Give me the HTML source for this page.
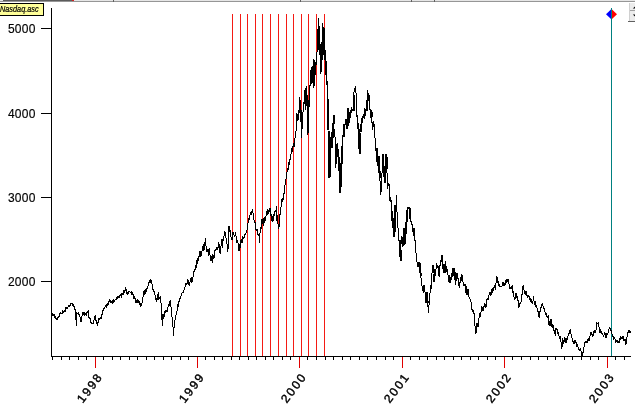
<!DOCTYPE html>
<html><head><meta charset="utf-8"><title>Nasdaq.asc</title>
<style>
html,body{margin:0;padding:0;background:#fff;}
body{width:635px;height:414px;position:relative;overflow:hidden;font-family:"Liberation Sans",Arial,sans-serif;color:#000;}
.yl{-webkit-text-stroke:0.15px #000;position:absolute;left:7px;width:28.6px;letter-spacing:0.25px;text-align:right;font-size:12px;line-height:12px;}
.xl{position:absolute;font-size:12px;line-height:12px;white-space:nowrap;transform-origin:100% 50%;transform:rotate(-53deg);letter-spacing:1.9px;-webkit-text-stroke:0.4px #000;}
.tag{position:absolute;left:-2px;top:3px;width:44px;height:11px;background:#ffff99;border:1px solid #000;box-sizing:content-box;font-size:8.5px;line-height:11px;font-style:italic;white-space:nowrap;overflow:hidden;}
.tag span{-webkit-text-stroke:0.2px #000;display:inline-block;transform-origin:0 50%;transform:scaleX(0.86);margin-left:0.5px;}
</style></head><body>
<svg width="635" height="414" viewBox="0 0 635 414" style="position:absolute;left:0;top:0">
<g shape-rendering="crispEdges">
<rect x="0" y="0" width="635" height="1" fill="#e6e6e6"/>
<rect x="0" y="1" width="635" height="1" fill="#969696"/>
<rect x="3" y="0" width="69" height="1" fill="#5c5c5c"/>
<rect x="72" y="0" width="2" height="1" fill="#d02020"/>
<rect x="113" y="0" width="1" height="2" fill="#606060"/>
<rect x="300" y="0" width="1" height="2" fill="#606060"/>
<rect x="411" y="0" width="1" height="2" fill="#606060"/>
<rect x="434" y="0" width="1" height="2" fill="#606060"/>
<rect x="232" y="14" width="1" height="342" fill="#f41a14"/>
<rect x="240" y="14" width="1" height="342" fill="#f41a14"/>
<rect x="247" y="14" width="1" height="342" fill="#f41a14"/>
<rect x="255" y="14" width="1" height="342" fill="#f41a14"/>
<rect x="262" y="14" width="1" height="342" fill="#f41a14"/>
<rect x="270" y="14" width="1" height="342" fill="#f41a14"/>
<rect x="278" y="14" width="1" height="342" fill="#f41a14"/>
<rect x="286" y="14" width="1" height="342" fill="#f41a14"/>
<rect x="293" y="14" width="1" height="342" fill="#f41a14"/>
<rect x="301" y="14" width="1" height="342" fill="#f41a14"/>
<rect x="308" y="14" width="1" height="342" fill="#f41a14"/>
<rect x="316" y="14" width="1" height="342" fill="#f41a14"/>
<rect x="324" y="14" width="1" height="342" fill="#f41a14"/>
<rect x="51" y="8" width="1" height="349" fill="#000"/>
<rect x="51" y="356" width="580" height="1" fill="#000"/>
<rect x="41" y="28" width="10" height="1" fill="#000"/>
<rect x="41" y="113" width="10" height="1" fill="#000"/>
<rect x="41" y="197" width="10" height="1" fill="#000"/>
<rect x="41" y="281" width="10" height="1" fill="#000"/>
<rect x="52" y="357" width="1" height="3" fill="#000"/>
<rect x="61" y="357" width="1" height="3" fill="#000"/>
<rect x="69" y="357" width="1" height="3" fill="#000"/>
<rect x="78" y="357" width="1" height="3" fill="#000"/>
<rect x="86" y="357" width="1" height="3" fill="#000"/>
<rect x="95" y="357" width="1" height="11" fill="#e00000"/>
<rect x="103" y="357" width="1" height="3" fill="#000"/>
<rect x="112" y="357" width="1" height="3" fill="#000"/>
<rect x="120" y="357" width="1" height="3" fill="#000"/>
<rect x="129" y="357" width="1" height="3" fill="#000"/>
<rect x="137" y="357" width="1" height="3" fill="#000"/>
<rect x="146" y="357" width="1" height="3" fill="#000"/>
<rect x="154" y="357" width="1" height="3" fill="#000"/>
<rect x="163" y="357" width="1" height="3" fill="#000"/>
<rect x="171" y="357" width="1" height="3" fill="#000"/>
<rect x="180" y="357" width="1" height="3" fill="#000"/>
<rect x="188" y="357" width="1" height="3" fill="#000"/>
<rect x="197" y="357" width="1" height="11" fill="#e00000"/>
<rect x="205" y="357" width="1" height="3" fill="#000"/>
<rect x="214" y="357" width="1" height="3" fill="#000"/>
<rect x="222" y="357" width="1" height="3" fill="#000"/>
<rect x="231" y="357" width="1" height="3" fill="#000"/>
<rect x="239" y="357" width="1" height="3" fill="#000"/>
<rect x="248" y="357" width="1" height="3" fill="#000"/>
<rect x="256" y="357" width="1" height="3" fill="#000"/>
<rect x="265" y="357" width="1" height="3" fill="#000"/>
<rect x="273" y="357" width="1" height="3" fill="#000"/>
<rect x="282" y="357" width="1" height="3" fill="#000"/>
<rect x="290" y="357" width="1" height="3" fill="#000"/>
<rect x="299" y="357" width="1" height="11" fill="#e00000"/>
<rect x="307" y="357" width="1" height="3" fill="#000"/>
<rect x="316" y="357" width="1" height="3" fill="#000"/>
<rect x="325" y="357" width="1" height="3" fill="#000"/>
<rect x="333" y="357" width="1" height="3" fill="#000"/>
<rect x="342" y="357" width="1" height="3" fill="#000"/>
<rect x="350" y="357" width="1" height="3" fill="#000"/>
<rect x="359" y="357" width="1" height="3" fill="#000"/>
<rect x="367" y="357" width="1" height="3" fill="#000"/>
<rect x="376" y="357" width="1" height="3" fill="#000"/>
<rect x="385" y="357" width="1" height="3" fill="#000"/>
<rect x="393" y="357" width="1" height="3" fill="#000"/>
<rect x="402" y="357" width="1" height="11" fill="#e00000"/>
<rect x="410" y="357" width="1" height="3" fill="#000"/>
<rect x="419" y="357" width="1" height="3" fill="#000"/>
<rect x="427" y="357" width="1" height="3" fill="#000"/>
<rect x="436" y="357" width="1" height="3" fill="#000"/>
<rect x="444" y="357" width="1" height="3" fill="#000"/>
<rect x="453" y="357" width="1" height="3" fill="#000"/>
<rect x="461" y="357" width="1" height="3" fill="#000"/>
<rect x="470" y="357" width="1" height="3" fill="#000"/>
<rect x="478" y="357" width="1" height="3" fill="#000"/>
<rect x="487" y="357" width="1" height="3" fill="#000"/>
<rect x="495" y="357" width="1" height="3" fill="#000"/>
<rect x="504" y="357" width="1" height="11" fill="#e00000"/>
<rect x="512" y="357" width="1" height="3" fill="#000"/>
<rect x="521" y="357" width="1" height="3" fill="#000"/>
<rect x="530" y="357" width="1" height="3" fill="#000"/>
<rect x="538" y="357" width="1" height="3" fill="#000"/>
<rect x="547" y="357" width="1" height="3" fill="#000"/>
<rect x="555" y="357" width="1" height="3" fill="#000"/>
<rect x="564" y="357" width="1" height="3" fill="#000"/>
<rect x="572" y="357" width="1" height="3" fill="#000"/>
<rect x="581" y="357" width="1" height="3" fill="#000"/>
<rect x="590" y="357" width="1" height="3" fill="#000"/>
<rect x="598" y="357" width="1" height="3" fill="#000"/>
<rect x="607" y="357" width="1" height="11" fill="#e00000"/>
<rect x="615" y="357" width="1" height="3" fill="#000"/>
<rect x="624" y="357" width="1" height="3" fill="#000"/>
<rect x="611" y="8" width="1" height="348" fill="#008080"/>
</g>
<polyline points="52.1,312.9 52.46,313.19 52.82,314.73 53.18,314.42 53.54,314.92 53.9,315.9 54.33,315.15 54.75,316.39 55.17,318.36 55.6,317.4 55.98,318.35 56.35,319.53 56.73,319.04 57.1,319.2 57.46,319.17 57.82,318.42 58.18,315.71 58.54,318.22 58.9,316.7 59.26,316.84 59.61,316.36 59.97,313.23 60.33,312.69 60.69,313.26 61.04,313.3 61.4,313.4 61.76,313.45 62.11,312.69 62.47,313.06 62.83,311.29 63.19,312.14 63.54,311.92 63.9,311.1 64.27,309.81 64.64,312.31 65.01,310.43 65.39,310.79 65.76,308.03 66.13,307.41 66.5,307.9 66.86,307.27 67.21,307.39 67.57,308.15 67.93,307.48 68.29,306.4 68.64,305.55 69.0,306.6 69.36,305.45 69.71,307.24 70.07,304.13 70.43,305.03 70.79,304.8 71.14,302.86 71.5,303.3 71.9,303.78 72.3,305.86 72.7,302.86 73.1,304.56 73.5,305.4 73.86,306.26 74.22,306.35 74.58,309.03 74.94,309.32 75.3,310.4 75.7,313.83 76.1,321.76 76.5,326.0 77.0,312.9 77.4,313.43 77.8,313.47 78.2,313.79 78.6,311.7 79.02,314.02 79.45,315.59 79.88,315.77 80.3,319.2 80.7,321.17 81.1,321.7 81.5,318.48 81.9,316.16 82.3,314.2 82.63,312.05 82.97,311.99 83.3,312.4 83.7,312.5 84.1,315.48 84.5,312.17 84.9,315.4 85.33,313.0 85.75,314.44 86.17,315.3 86.6,312.9 87.03,313.22 87.47,311.29 87.9,311.7 88.3,311.29 88.7,316.33 89.1,318.0 89.53,317.96 89.97,318.35 90.4,320.5 90.76,322.23 91.12,322.97 91.48,322.48 91.84,323.18 92.2,323.5 92.6,323.4 93.0,323.88 93.4,321.7 93.78,321.17 94.15,319.81 94.53,318.6 94.9,316.7 95.23,316.3 95.57,319.89 95.9,319.2 96.28,322.01 96.65,323.21 97.03,322.07 97.4,326.0 97.77,323.28 98.13,322.97 98.5,320.0 98.9,317.61 99.3,318.98 99.7,320.0 100.1,316.85 100.5,318.0 100.92,318.98 101.35,316.77 101.78,314.97 102.2,314.2 102.6,312.7 103.0,310.4 103.43,310.39 103.87,308.89 104.3,307.9 104.72,308.75 105.15,305.8 105.58,305.49 106.0,305.4 106.4,306.5 106.8,304.92 107.2,303.47 107.6,305.6 108.0,304.1 108.4,305.28 108.8,301.99 109.2,299.98 109.6,300.88 110.0,300.3 110.36,300.6 110.72,300.9 111.08,303.24 111.44,300.93 111.8,302.8 112.16,303.24 112.52,300.11 112.88,300.25 113.24,301.65 113.6,300.3 114.0,301.58 114.4,300.98 114.8,300.05 115.2,299.53 115.6,299.1 115.96,298.94 116.31,299.14 116.67,297.74 117.03,298.0 117.39,298.03 117.74,296.87 118.1,296.5 118.46,297.39 118.81,296.94 119.17,297.51 119.53,296.27 119.89,295.05 120.24,294.95 120.6,295.3 121.0,295.02 121.4,296.07 121.8,294.05 122.2,294.8 122.6,294.0 122.96,295.28 123.32,289.83 123.68,290.91 124.04,292.35 124.4,291.5 124.83,291.07 125.27,289.84 125.7,288.5 126.1,289.71 126.5,293.1 126.9,294.0 127.26,293.9 127.62,292.26 127.98,294.47 128.34,292.51 128.7,291.5 129.1,291.02 129.5,291.88 129.9,291.96 130.3,292.45 130.7,292.8 131.1,291.55 131.5,292.59 131.9,294.94 132.3,292.33 132.7,294.0 133.06,294.67 133.42,296.85 133.78,297.47 134.14,299.09 134.5,297.8 134.86,296.38 135.22,299.12 135.58,300.04 135.94,302.23 136.3,302.3 136.7,302.74 137.1,299.85 137.5,302.56 137.9,299.85 138.3,300.3 138.7,302.48 139.1,300.86 139.5,304.1 139.86,304.59 140.22,305.84 140.58,304.68 140.94,305.39 141.3,305.4 141.73,304.75 142.17,302.19 142.6,300.3 143.0,297.25 143.4,296.58 143.8,291.5 144.2,292.74 144.6,290.56 145.0,294.66 145.4,288.81 145.8,290.2 146.2,290.78 146.6,288.33 147.0,288.17 147.4,288.27 147.8,286.5 148.16,286.07 148.52,285.93 148.88,281.94 149.24,281.2 149.6,282.7 150.03,282.8 150.47,279.69 150.9,280.2 151.3,280.31 151.7,281.33 152.1,285.2 152.46,288.33 152.82,288.81 153.18,291.12 153.54,288.89 153.9,291.5 154.28,292.45 154.65,291.79 155.03,295.42 155.4,295.3 155.73,299.58 156.07,298.29 156.4,301.6 156.78,301.81 157.15,299.15 157.53,295.65 157.9,294.0 158.23,293.54 158.57,299.33 158.9,299.1 159.28,298.64 159.65,297.63 160.03,298.67 160.4,297.8 160.73,300.45 161.07,304.0 161.4,304.1 161.8,313.56 162.2,325.5 162.6,321.18 163.0,314.2 163.33,316.84 163.67,317.62 164.0,316.7 164.4,314.38 164.8,311.58 165.2,310.4 165.63,312.11 166.07,311.41 166.5,311.7 166.9,310.59 167.3,310.97 167.7,307.9 168.13,307.13 168.57,304.08 169.0,306.6 169.4,303.59 169.8,301.6 170.2,301.16 170.6,306.0 171.0,306.6 171.33,310.37 171.67,312.58 172.0,316.7 172.4,319.84 172.8,323.0 173.15,330.21 173.5,335.6 173.9,330.04 174.3,324.3 174.73,322.87 175.17,318.29 175.6,315.4 176.03,314.8 176.45,313.51 176.88,311.81 177.3,307.9 177.66,305.77 178.02,306.53 178.38,301.66 178.74,301.42 179.1,301.6 179.5,297.69 179.9,300.53 180.3,296.13 180.7,296.54 181.1,295.3 181.5,294.27 181.9,293.74 182.3,292.18 182.7,292.59 183.1,291.5 183.46,293.31 183.82,290.04 184.18,289.99 184.54,289.92 184.9,287.7 185.32,286.46 185.75,283.94 186.18,284.02 186.6,283.9 187.0,284.59 187.4,279.7 187.8,280.22 188.2,280.2 188.53,283.39 188.87,284.72 189.2,285.2 189.57,283.44 189.95,282.87 190.32,280.13 190.7,278.1 191.1,277.82 191.5,278.79 191.9,282.7 192.33,279.19 192.77,279.07 193.2,275.1 193.56,273.2 193.92,271.66 194.28,270.86 194.64,268.63 195.0,270.1 195.43,268.85 195.85,265.2 196.27,268.18 196.7,266.3 197.07,258.8 197.43,264.39 197.8,260.46 198.17,255.62 198.53,261.32 198.9,258.0 199.3,254.1 199.7,251.7 200.03,251.11 200.37,252.71 200.7,256.8 201.07,255.7 201.45,251.73 201.82,253.27 202.2,249.2 202.53,249.65 202.87,247.77 203.2,244.2 203.53,246.8 203.87,249.81 204.2,249.2 204.53,247.72 204.87,243.78 205.2,239.1 205.63,238.47 206.07,246.75 206.5,246.7 206.9,252.06 207.3,249.2 207.7,251.7 208.13,249.56 208.57,255.47 209.0,249.2 209.4,248.6 209.8,254.69 210.2,255.5 210.63,261.18 211.07,256.42 211.5,260.6 211.93,260.35 212.37,261.18 212.8,254.3 213.2,255.21 213.6,258.29 214.0,258.0 214.43,257.96 214.87,250.5 215.3,250.5 215.7,248.98 216.1,248.8 216.5,246.7 216.93,249.87 217.37,248.27 217.8,249.2 218.23,246.98 218.67,243.59 219.1,244.2 219.5,246.11 219.9,252.56 220.3,253.0 220.73,249.92 221.17,243.83 221.6,242.9 222.0,239.18 222.4,248.2 222.8,239.1 223.23,241.25 223.67,238.54 224.1,235.4 224.53,230.95 224.97,234.76 225.4,231.6 225.8,235.16 226.2,240.85 226.6,237.9 227.03,243.74 227.47,246.91 227.9,251.7 228.25,243.77 228.6,232.8 228.93,225.84 229.27,231.8 229.6,226.5 230.03,230.47 230.47,230.29 230.9,235.4 231.33,239.74 231.77,239.74 232.2,239.1 232.6,232.82 233.0,232.89 233.4,232.8 233.83,234.95 234.27,235.88 234.7,236.6 235.1,234.57 235.5,233.45 235.9,234.1 236.33,242.55 236.77,241.38 237.2,240.4 237.63,240.32 238.07,243.31 238.5,250.5 238.9,251.11 239.3,249.12 239.7,244.2 240.13,248.21 240.57,244.03 241.0,240.4 241.4,239.2 241.8,242.83 242.2,242.9 242.63,236.05 243.07,237.36 243.5,237.9 243.88,237.1 244.25,238.21 244.62,233.84 245.0,235.4 245.43,233.76 245.87,234.26 246.3,231.6 246.7,230.66 247.1,229.39 247.5,225.3 247.93,223.86 248.37,220.06 248.8,219.0 249.2,220.3 249.6,216.63 250.0,215.2 250.43,212.04 250.87,212.27 251.3,213.9 251.73,212.23 252.17,210.2 252.6,208.9 252.93,212.36 253.27,214.77 253.6,217.7 253.93,219.97 254.27,220.67 254.6,222.8 254.93,220.05 255.27,226.59 255.6,226.5 256.03,230.65 256.47,229.58 256.9,229.1 257.3,230.62 257.7,234.66 258.1,235.4 258.53,235.03 258.97,234.83 259.4,242.9 259.75,237.43 260.1,231.6 260.43,227.47 260.77,231.36 261.1,227.8 261.53,223.14 261.97,218.84 262.4,224.0 262.83,219.02 263.27,225.74 263.7,219.0 264.1,219.04 264.5,217.15 264.9,222.8 265.33,217.37 265.77,218.57 266.2,213.9 266.6,213.89 267.0,211.16 267.4,208.9 267.83,214.48 268.27,212.67 268.7,211.4 269.13,210.06 269.57,210.88 270.0,207.6 270.4,215.69 270.8,215.9 271.2,215.2 271.63,220.64 272.07,215.9 272.5,221.5 272.9,218.92 273.3,219.68 273.7,215.2 274.13,212.95 274.57,216.22 275.0,211.4 275.43,211.74 275.87,211.14 276.3,206.4 276.63,208.62 276.97,220.75 277.3,215.2 277.63,223.41 277.97,222.92 278.3,227.8 278.63,224.72 278.97,228.49 279.3,217.7 279.63,214.07 279.97,215.61 280.3,210.2 280.63,211.82 280.97,206.82 281.3,205.1 281.73,198.96 282.17,201.55 282.6,198.8 283.0,198.41 283.4,199.49 283.8,193.8 284.15,193.67 284.5,187.94 284.85,188.04 285.2,181.9 285.63,181.84 286.07,178.49 286.5,175.6 286.9,173.28 287.3,169.58 287.7,168.0 288.07,169.97 288.45,162.31 288.82,163.25 289.2,165.0 289.65,161.9 290.1,158.8 290.55,156.4 291.0,154.0 291.4,151.0 291.8,148.0 292.15,150.0 292.5,152.0 292.9,147.5 293.3,143.0 293.65,145.0 294.0,147.0 294.3,144.0 294.6,141.0 295.0,138.5 295.3,135.75 295.6,133.0 296.0,131.0 296.5,122.0 296.9,113.0 297.3,121.0 297.8,116.0 298.1,113.0 298.4,110.0 298.9,120.0 299.3,97.0 299.8,112.0 300.3,100.0 300.8,122.0 301.3,110.0 301.7,137.6 302.1,115.0 302.6,128.6 303.1,108.0 303.6,112.0 304.1,100.0 304.6,104.0 305.0,90.0 305.4,110.0 305.8,88.0 306.3,105.0 306.7,86.0 307.2,117.0 307.6,95.0 308.0,134.7 308.4,100.0 308.8,122.0 309.2,95.0 309.7,88.0 310.2,84.0 310.6,70.0 311.1,82.0 311.5,67.0 312.0,84.0 312.5,66.0 313.0,80.0 313.3,70.0 313.6,88.0 314.0,59.0 314.3,72.5 314.6,86.0 315.0,62.0 315.3,68.5 315.6,75.0 315.95,66.5 316.3,58.0 316.75,54.0 317.2,50.0 317.3,29.5 317.4,52.0 317.8,30.0 318.2,48.0 318.5,18.0 318.9,50.0 319.3,26.0 319.7,55.0 320.2,44.0 320.6,74.0 321.0,45.0 321.5,72.0 321.9,42.0 322.3,60.0 322.8,23.0 323.2,52.0 323.6,27.0 324.0,55.0 324.4,28.0 324.8,60.0 325.2,50.0 325.6,75.0 326.0,60.0 326.5,85.0 327.0,80.0 327.3,100.0 327.5,98.7 327.5,115.1 328.0,130.2 328.5,145.4 329.0,178.1 329.4,164.28 329.8,150.4 330.2,136.88 330.6,137.8 330.93,138.47 331.27,132.26 331.6,147.9 331.93,136.95 332.27,138.02 332.6,127.7 332.95,125.12 333.3,115.1 333.7,123.59 334.1,132.8 334.43,133.84 334.77,128.95 335.1,140.3 335.6,166.8 335.95,167.67 336.3,150.4 336.7,149.73 337.1,142.8 337.43,155.29 337.77,149.39 338.1,160.5 338.5,164.5 338.9,170.6 339.25,172.14 339.6,193.2 340.0,187.32 340.4,173.1 340.75,172.1 341.1,160.5 341.43,146.02 341.77,153.46 342.1,150.4 342.6,154.2 343.1,131.5 343.47,137.16 343.83,124.25 344.2,136.5 344.53,124.25 344.87,124.24 345.2,125.2 345.53,123.27 345.87,118.69 346.2,129.0 346.53,127.5 346.87,127.22 347.2,123.9 347.55,119.99 347.9,107.6 348.3,119.21 348.7,121.4 349.03,122.39 349.37,122.4 349.7,115.1 350.03,111.93 350.37,113.4 350.7,117.6 351.03,109.26 351.37,107.41 351.7,112.6 352.03,111.22 352.37,110.97 352.7,110.1 353.03,111.36 353.37,94.98 353.7,103.8 354.1,89.39 354.5,92.4 354.85,89.08 355.2,86.1 355.57,88.46 355.93,91.48 356.3,97.5 356.8,115.1 357.13,117.21 357.47,115.15 357.8,122.7 358.15,133.5 358.5,135.3 358.9,146.91 359.3,154.2 359.65,142.96 360.0,132.8 360.4,124.68 360.8,125.2 361.13,124.9 361.47,117.87 361.8,127.7 362.13,118.82 362.47,122.94 362.8,120.2 363.13,114.11 363.47,118.13 363.8,115.1 364.13,117.35 364.47,108.47 364.8,118.9 365.13,114.29 365.47,110.92 365.8,110.1 366.13,110.72 366.47,109.26 366.8,102.5 367.13,98.48 367.47,90.13 367.8,91.2 368.2,95.23 368.6,101.3 369.0,97.69 369.4,95.0 369.75,107.66 370.1,110.1 370.5,115.83 370.9,117.6 371.23,114.52 371.57,112.09 371.9,122.7 372.23,122.78 372.57,122.93 372.9,130.2 373.23,120.94 373.57,125.25 373.9,123.9 374.23,124.53 374.57,132.17 374.9,135.3 375.23,141.93 375.57,139.49 375.9,145.4 376.23,161.95 376.57,148.47 376.9,152.9 377.23,162.74 377.57,160.34 377.9,163.0 378.23,172.7 378.57,156.41 378.9,173.1 379.23,170.63 379.57,177.79 379.9,178.1 380.23,186.78 380.57,195.28 380.9,194.5 381.3,186.76 381.7,175.6 382.1,172.2 382.5,154.2 382.83,163.27 383.17,168.83 383.5,168.0 383.83,175.86 384.17,177.22 384.5,183.1 384.85,174.63 385.2,160.5 385.6,155.83 386.0,156.7 386.33,168.97 386.67,161.89 387.0,173.1 387.33,178.66 387.67,188.63 388.0,185.7 388.33,183.65 388.67,184.07 389.0,183.1 389.33,195.07 389.67,195.03 390.0,200.8 390.4,196.6 390.8,201.76 391.2,200.3 391.53,210.69 391.87,218.77 392.2,223.0 392.53,217.8 392.87,227.74 393.2,218.0 393.55,234.87 393.9,236.9 394.3,221.23 394.7,205.4 395.03,209.2 395.37,208.35 395.7,212.9 396.1,211.06 396.5,195.3 396.85,204.49 397.2,220.5 397.53,226.92 397.87,225.1 398.2,230.6 398.53,230.93 398.87,240.33 399.2,240.6 399.53,252.74 399.87,254.03 400.2,260.8 400.53,249.72 400.87,247.34 401.2,235.6 401.57,238.76 401.93,243.62 402.3,245.7 402.63,246.21 402.97,238.79 403.3,228.0 403.63,229.09 403.97,244.57 404.3,238.1 404.63,234.75 404.97,234.8 405.3,228.0 405.63,222.59 405.97,222.8 406.3,220.5 406.63,209.84 406.97,223.82 407.3,212.9 407.63,217.76 407.97,207.18 408.3,207.9 408.63,207.18 408.97,207.18 409.3,210.4 409.63,219.32 409.97,214.99 410.3,220.5 410.63,221.06 410.97,220.74 411.3,223.0 411.63,224.99 411.97,223.23 412.3,230.6 412.63,232.37 412.97,227.72 413.3,235.6 413.63,234.46 413.97,235.27 414.3,233.1 414.67,239.29 415.03,240.53 415.4,245.7 415.1,245.0 415.53,244.72 415.97,252.37 416.4,255.1 416.8,256.61 417.2,265.76 417.6,265.2 418.03,267.22 418.47,263.1 418.9,262.7 419.33,265.58 419.77,269.4 420.2,276.5 420.6,274.54 421.0,277.83 421.4,280.3 421.83,284.65 422.27,288.71 422.7,290.4 423.1,290.57 423.5,292.81 423.9,285.4 424.33,285.61 424.77,290.44 425.2,292.9 425.63,302.49 426.07,292.29 426.5,300.5 426.9,299.78 427.3,302.67 427.7,303.0 428.1,308.49 428.5,313.1 428.83,309.23 429.17,302.33 429.5,298.0 429.9,294.94 430.3,289.77 430.7,285.4 431.03,288.76 431.37,280.9 431.7,287.9 432.0,273.48 432.3,265.2 432.63,270.66 432.97,272.54 433.3,281.6 433.63,274.2 433.97,276.21 434.3,270.2 434.63,269.14 434.97,274.99 435.3,274.0 435.7,272.92 436.1,267.59 436.5,262.7 436.93,266.25 437.37,265.65 437.8,267.7 438.23,265.58 438.67,273.46 439.1,276.5 439.5,273.92 439.9,266.17 440.3,263.9 440.73,260.59 441.17,260.91 441.6,255.1 442.0,255.1 442.4,264.24 442.8,265.2 443.23,273.35 443.67,268.27 444.1,272.8 444.53,269.53 444.97,264.64 445.4,261.4 445.8,268.86 446.2,265.97 446.6,266.5 447.03,272.25 447.47,269.04 447.9,274.0 448.3,276.88 448.7,279.83 449.1,282.8 449.53,275.13 449.97,283.31 450.4,277.8 450.83,279.54 451.27,272.69 451.7,276.5 452.1,275.41 452.5,270.3 452.9,267.7 453.33,270.53 453.77,272.02 454.2,272.8 454.6,272.92 455.0,279.83 455.4,284.1 455.83,284.27 456.27,275.98 456.7,274.0 457.13,273.48 457.57,274.11 458.0,279.1 458.4,278.72 458.8,284.88 459.2,286.6 459.63,287.1 460.07,281.75 460.5,277.8 460.9,277.13 461.3,280.73 461.7,274.0 462.13,275.27 462.57,277.45 463.0,281.6 463.43,284.1 463.87,285.41 464.3,285.4 464.7,284.75 465.1,286.09 465.5,290.4 465.93,292.31 466.37,293.48 466.8,294.2 467.2,289.62 467.6,290.35 468.0,289.1 468.43,290.87 468.87,296.03 469.3,298.0 469.73,298.59 470.17,299.49 470.6,300.5 471.0,302.27 471.4,307.63 471.8,308.0 472.23,311.62 472.67,309.01 473.1,310.6 473.5,313.9 473.9,312.49 474.3,315.6 474.73,321.6 475.17,328.62 475.6,333.2 476.03,332.38 476.47,325.8 476.9,323.1 477.3,324.24 477.7,325.98 478.1,326.9 478.53,320.03 478.97,318.53 479.4,314.3 479.8,313.89 480.2,316.73 480.6,316.9 481.03,311.37 481.47,306.38 481.9,306.8 482.3,308.14 482.7,309.85 483.1,310.6 483.53,306.98 483.97,307.33 484.4,303.0 484.83,304.11 485.27,305.11 485.7,308.0 486.1,306.47 486.5,299.77 486.9,300.5 487.33,298.64 487.77,299.59 488.2,299.2 488.6,298.92 489.0,294.65 489.4,292.9 489.83,294.01 490.27,292.33 490.7,294.2 491.13,293.17 491.57,294.51 492.0,289.1 492.4,287.99 492.8,292.72 493.2,290.4 493.63,287.68 494.07,287.91 494.5,286.6 494.9,287.43 495.3,289.43 495.7,287.9 496.13,281.5 496.57,276.79 497.0,277.3 497.43,280.19 497.87,282.06 498.3,281.6 498.7,283.9 499.1,286.9 499.5,284.1 500.0,286.4 500.35,286.69 500.7,286.62 501.05,286.89 501.4,286.52 501.75,286.82 502.1,285.3 502.47,282.93 502.83,283.73 503.2,282.2 503.57,285.79 503.93,282.68 504.3,283.2 504.65,284.89 505.0,284.56 505.35,282.14 505.7,281.2 506.05,280.27 506.4,281.1 506.75,279.57 507.1,279.49 507.45,282.07 507.8,280.45 508.15,280.34 508.5,280.0 508.87,282.06 509.23,287.05 509.6,287.4 509.93,288.89 510.27,287.81 510.6,288.5 510.97,289.31 511.33,286.75 511.7,286.4 512.07,285.91 512.43,292.48 512.8,290.6 513.13,293.06 513.47,291.37 513.8,294.9 514.17,298.98 514.53,299.17 514.9,300.2 515.23,294.4 515.57,298.76 515.9,292.8 516.27,294.56 516.63,296.8 517.0,295.9 517.37,298.12 517.73,299.18 518.1,301.3 518.43,299.88 518.77,306.81 519.1,306.6 519.47,305.59 519.83,303.88 520.2,303.4 520.57,303.42 520.93,302.16 521.3,301.3 521.63,299.9 521.97,294.83 522.3,292.8 522.65,289.52 523.0,286.4 523.4,285.91 523.8,289.6 524.23,290.06 524.67,293.89 525.1,293.8 525.53,295.41 525.97,291.6 526.4,291.7 526.8,293.2 527.2,297.46 527.6,297.0 528.03,295.6 528.47,297.19 528.9,294.9 529.33,299.91 529.77,297.78 530.2,299.1 530.63,302.41 531.07,299.08 531.5,301.3 531.9,302.43 532.3,302.54 532.7,303.4 533.15,299.89 533.6,295.9 533.97,300.11 534.33,304.54 534.7,301.3 535.03,301.33 535.37,302.92 535.7,305.5 536.13,307.2 536.57,304.78 537.0,307.6 537.43,310.01 537.87,311.58 538.3,311.9 538.7,313.5 539.1,317.16 539.5,318.3 539.95,311.61 540.4,310.8 540.77,311.23 541.13,305.61 541.5,307.6 541.83,304.8 542.17,303.67 542.5,303.4 542.87,303.98 543.23,307.93 543.6,307.6 543.93,308.83 544.27,308.95 544.6,310.8 544.97,312.22 545.33,314.6 545.7,311.9 546.07,312.98 546.43,314.73 546.8,315.1 547.13,318.13 547.47,317.0 547.8,317.2 548.17,316.61 548.53,325.24 548.9,322.5 549.27,326.08 549.63,321.15 550.0,325.7 550.33,323.5 550.67,322.18 551.0,319.3 551.37,323.86 551.73,326.14 552.1,327.8 552.43,326.63 552.77,324.57 553.1,325.7 553.47,327.64 553.83,330.98 554.2,331.0 554.57,330.98 554.93,332.87 555.3,336.3 555.63,333.79 555.97,328.54 556.3,328.9 556.67,329.16 557.03,329.57 557.4,331.0 557.77,333.18 558.13,332.72 558.5,335.3 558.83,334.96 559.17,336.81 559.5,338.5 559.87,338.06 560.23,336.95 560.6,337.4 560.97,341.31 561.33,346.07 561.7,349.1 562.03,347.26 562.37,344.71 562.7,339.5 563.07,339.99 563.43,341.87 563.8,343.8 564.13,338.71 564.47,341.84 564.8,337.4 565.17,338.28 565.53,340.89 565.9,342.7 566.27,342.26 566.63,338.93 567.0,339.5 567.33,339.0 567.67,337.33 568.0,336.3 568.37,332.93 568.73,334.54 569.1,333.1 569.4,333.31 569.7,330.4 570.07,330.04 570.43,333.25 570.8,333.1 571.17,334.8 571.53,336.56 571.9,337.4 572.23,339.01 572.57,341.12 572.9,340.6 573.27,341.4 573.63,343.77 574.0,343.8 574.33,342.25 574.67,342.53 575.0,340.6 575.37,340.33 575.73,341.87 576.1,342.7 576.47,345.43 576.83,344.62 577.2,344.8 577.53,345.69 577.87,345.63 578.2,348.0 578.57,347.85 578.93,349.68 579.3,350.2 579.67,350.51 580.03,349.21 580.4,348.0 580.73,350.01 581.07,350.82 581.4,352.3 581.77,354.81 582.13,354.02 582.5,355.5 582.87,352.78 583.23,352.2 583.6,349.1 583.93,347.41 584.27,345.25 584.6,343.8 584.97,342.42 585.33,342.1 585.7,341.7 586.03,342.77 586.37,342.79 586.7,342.7 587.07,340.19 587.43,341.08 587.8,339.5 588.17,340.08 588.53,339.02 588.9,340.6 589.23,340.11 589.57,337.39 589.9,336.3 590.27,334.47 590.63,334.52 591.0,332.1 591.37,334.5 591.73,332.62 592.1,334.2 592.43,335.12 592.77,333.82 593.1,335.3 593.47,335.65 593.83,331.79 594.2,331.0 594.53,333.26 594.87,331.56 595.2,333.1 595.57,331.7 595.93,331.14 596.3,325.7 596.67,322.12 597.03,323.7 597.4,323.6 597.8,323.75 598.2,322.5 598.57,324.87 598.93,326.6 599.3,330.0 599.63,333.14 599.97,330.77 600.3,331.0 600.67,329.56 601.03,333.51 601.4,333.1 601.77,331.26 602.13,335.31 602.5,334.2 602.83,333.83 603.17,335.12 603.5,335.3 603.87,336.17 604.23,333.98 604.6,333.1 604.97,332.76 605.33,333.84 605.7,337.4 606.03,337.74 606.37,336.2 606.7,334.2 607.07,332.79 607.43,334.57 607.8,333.1 608.17,332.71 608.53,331.88 608.9,330.0 609.23,327.44 609.57,328.13 609.9,327.8 610.27,329.74 610.63,330.24 611.0,330.0 611.33,332.55 611.67,329.63 612.0,334.2 612.37,335.11 612.73,336.22 613.1,336.3 613.47,339.56 613.83,335.85 614.2,337.4 614.53,337.69 614.87,338.84 615.2,339.5 615.57,340.94 615.93,339.7 616.3,340.6 616.67,342.34 617.03,340.39 617.4,341.7 617.73,342.35 618.07,341.74 618.4,342.7 618.77,342.55 619.13,341.21 619.5,341.7 619.83,338.34 620.17,340.17 620.5,337.4 620.87,338.14 621.23,337.45 621.6,338.5 621.97,338.01 622.33,338.26 622.7,336.3 623.03,336.53 623.37,339.03 623.7,340.6 624.07,340.88 624.43,340.5 624.8,339.5 625.17,340.53 625.53,339.87 625.9,343.8 626.23,343.15 626.57,339.93 626.9,337.4 627.27,335.65 627.63,333.51 628.0,332.1 628.33,332.08 628.67,330.81 629.0,331.0 629.37,330.64 629.73,331.44 630.1,333.1 630.47,332.0 630.83,331.64 631.2,332.1" fill="none" stroke="#000" stroke-width="1" shape-rendering="crispEdges"/>
<polyline points="328.3,100.0 328.5,98.7 328.5,115.1 329.0,130.2 329.5,145.4 330.0,178.1 330.4,164.28 330.8,150.4 331.2,136.88 331.6,137.8 331.93,138.47" fill="none" stroke="#000" stroke-width="1" shape-rendering="crispEdges"/>
<polyline points="332.27,132.26 332.60,147.9 332.93,136.95 333.27,138.02 333.60,127.7 333.95,125.12 334.30,115.1 334.70,123.59" fill="none" stroke="#000" stroke-width="1" shape-rendering="crispEdges"/>
<polyline points="338.77,149.39 339.10,160.5 339.50,164.5 339.90,170.6 340.25,172.14 340.60,193.2 341.00,187.32 341.40,173.1 341.75,172.1 342.10,160.5 342.43,146.02 342.77,153.46" fill="none" stroke="#000" stroke-width="1" shape-rendering="crispEdges"/>
<polyline points="346.53,123.27 346.87,118.69 347.20,129.0 347.53,127.5 347.87,127.22 348.20,123.9 348.55,119.99 348.90,107.6" fill="none" stroke="#000" stroke-width="1" shape-rendering="crispEdges"/>
<polyline points="353.03,111.22 353.37,110.97 353.70,110.1 354.03,111.36 354.37,94.98 354.70,103.8" fill="none" stroke="#000" stroke-width="1" shape-rendering="crispEdges"/>
<polyline points="358.80,122.7 359.15,133.5 359.50,135.3 359.90,146.91 360.30,154.2 360.65,142.96 361.00,132.8 361.40,124.68 361.80,125.2" fill="none" stroke="#000" stroke-width="1" shape-rendering="crispEdges"/>
<polyline points="366.47,110.92 366.80,110.1 367.13,110.72 367.47,109.26 367.80,102.5 368.13,98.48" fill="none" stroke="#000" stroke-width="1" shape-rendering="crispEdges"/>
<polyline points="371.10,110.1 371.50,115.83 371.90,117.6 372.23,114.52 372.57,112.09" fill="none" stroke="#000" stroke-width="1" shape-rendering="crispEdges"/>
<polyline points="377.57,148.47 377.90,152.9 378.23,162.74 378.57,160.34 378.90,163.0 379.23,172.7 379.57,156.41 379.90,173.1 380.23,170.63 380.57,177.79" fill="none" stroke="#000" stroke-width="1" shape-rendering="crispEdges"/>
<polyline points="383.10,172.2 383.50,154.2 383.83,163.27 384.17,168.83 384.50,168.0 384.83,175.86 385.17,177.22 385.50,183.1 385.85,174.63 386.20,160.5 386.60,155.83 387.00,156.7 387.33,168.97" fill="none" stroke="#000" stroke-width="1" shape-rendering="crispEdges"/>
<polyline points="392.53,210.69 392.87,218.77 393.20,223.0 393.53,217.8 393.87,227.74 394.20,218.0 394.55,234.87 394.90,236.9 395.30,221.23 395.70,205.4" fill="none" stroke="#000" stroke-width="1" shape-rendering="crispEdges"/>
<polyline points="399.87,240.33 400.20,240.6 400.53,252.74 400.87,254.03 401.20,260.8 401.53,249.72" fill="none" stroke="#000" stroke-width="1" shape-rendering="crispEdges"/>
<polyline points="403.63,246.21 403.97,238.79 404.30,228.0 404.63,229.09 404.97,244.57 405.30,238.1 405.63,234.75 405.97,234.8 406.30,228.0 406.63,222.59" fill="none" stroke="#000" stroke-width="1" shape-rendering="crispEdges"/>
<polyline points="408.97,207.18 409.30,207.9 409.63,207.18 409.97,207.18 410.30,210.4 410.63,219.32" fill="none" stroke="#000" stroke-width="1" shape-rendering="crispEdges"/>
<polyline points="413.97,227.72 414.30,235.6 414.63,234.46 414.97,235.27" fill="none" stroke="#000" stroke-width="1" shape-rendering="crispEdges"/>
<polyline points="419.03,267.22 419.47,263.1 419.90,262.7 420.33,265.58 420.77,269.4 421.20,276.5" fill="none" stroke="#000" stroke-width="1" shape-rendering="crispEdges"/>
<polyline points="426.20,292.9 426.63,302.49 427.07,292.29 427.50,300.5 427.90,299.78 428.30,302.67 428.70,303.0" fill="none" stroke="#000" stroke-width="1" shape-rendering="crispEdges"/>
<polyline points="433.00,273.48 433.30,265.2 433.63,270.66 433.97,272.54 434.30,281.6 434.63,274.2 434.97,276.21 435.30,270.2 435.63,269.14 435.97,274.99" fill="none" stroke="#000" stroke-width="1" shape-rendering="crispEdges"/>
<polyline points="443.40,264.24 443.80,265.2 444.23,273.35 444.67,268.27 445.10,272.8 445.53,269.53 445.97,264.64" fill="none" stroke="#000" stroke-width="1" shape-rendering="crispEdges"/>
<polyline points="451.83,279.54 452.27,272.69 452.70,276.5 453.10,275.41 453.50,270.3 453.90,267.7 454.33,270.53 454.77,272.02 455.20,272.8 455.60,272.92 456.00,279.83" fill="none" stroke="#000" stroke-width="1" shape-rendering="crispEdges"/>
<polyline points="465.30,285.4 465.70,284.75 466.10,286.09 466.50,290.4 466.93,292.31 467.37,293.48 467.80,294.2 468.20,289.62 468.60,290.35 469.00,289.1" fill="none" stroke="#000" stroke-width="1" shape-rendering="crispEdges"/>
<polygon points="606,14.3 611.5,9 611.5,19.6" fill="#0000ff"/>
<polygon points="617,14.3 611.5,9 611.5,19.6" fill="#ff0000"/>
<rect x="611" y="8" width="1" height="14" fill="#008080" shape-rendering="crispEdges"/>
<g shape-rendering="crispEdges"><rect x="629" y="3" width="6" height="18" fill="#ececec"/><rect x="629" y="10" width="6" height="1" fill="#a0a0a0"/><rect x="628" y="21" width="7" height="1" fill="#606060"/><rect x="629" y="3" width="1" height="18" fill="#d0d0d0"/></g>
<polygon points="632.8,8.6 635,6.6 635,8.6" fill="#000"/><polygon points="632.8,14.4 635,14.4 635,16.4" fill="#000"/>
</svg>
<div class="tag"><span>Nasdaq.asc</span></div>
<div class="yl" style="top:23px">5000</div>
<div class="yl" style="top:108px">4000</div>
<div class="yl" style="top:192px">3000</div>
<div class="yl" style="top:276px">2000</div>
<div class="xl" style="right:535.0px;top:367.6px">1998</div>
<div class="xl" style="right:433.0px;top:367.6px">1999</div>
<div class="xl" style="right:331.0px;top:367.6px">2000</div>
<div class="xl" style="right:228.0px;top:367.6px">2001</div>
<div class="xl" style="right:126.0px;top:367.6px">2002</div>
<div class="xl" style="right:23.0px;top:367.6px">2003</div>
</body></html>
